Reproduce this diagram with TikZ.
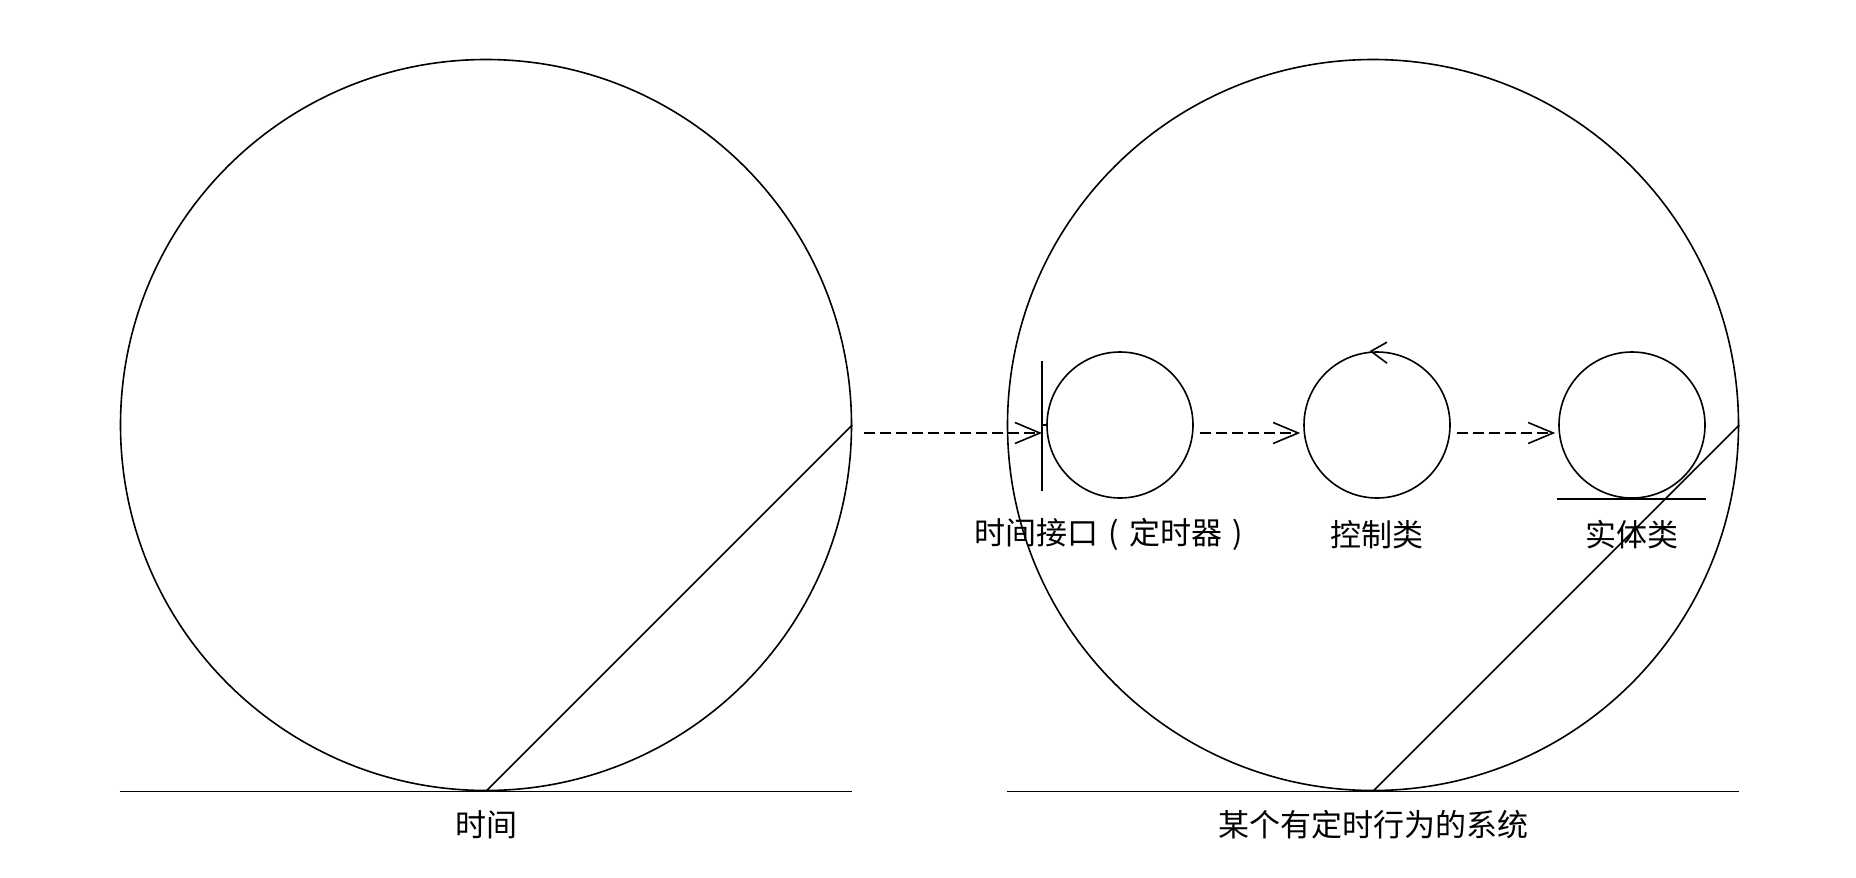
\documentclass[tikz,border=0pt]{standalone}
\usepackage{fontspec}
\setmainfont{Noto Sans CJK SC}
\usetikzlibrary{arrows.meta,calc}
\newcommand{\wparen}[1]{\makebox[1em][c]{#1}}
\begin{document}
\begin{tikzpicture}[x=1pt,y=-1pt,
  line width=1.6pt,
  big/.style={circle,draw,minimum size=731pt,inner sep=0pt},
  small/.style={circle,draw,minimum size=146pt,inner sep=0pt},
  lbl/.style={font=\fontsize{31}{36}\selectfont,inner sep=0pt},
  dep/.style={dash pattern=on 11pt off 5pt,-{Straight Barb[length=25pt,width=21pt,line width=1.6pt]}},
]
\useasboundingbox[fill=white] (0,0) rectangle (1856,878);
% left: time actor
\node[big] (L) at (486,425) {};
\draw (L.west|-L.south) -- (L.east|-L.south);
\draw (L.south) -- (L.east);
\node[lbl] (tl) at ($(L.south)+(0,33)$) {时间};
% right: system
\node[big] (R) at (1373,425) {};
\draw (R.west|-R.south) -- (R.east|-R.south);
\draw (R.south) -- (R.east);
\node[lbl] (tr) at ($(R.south)+(0,33)$) {某个有定时行为的系统};
% boundary (timer interface)
\node[small] (c1) at (1120,425) {};
\coordinate (bt) at (1042,361);
\coordinate (bb) at (1042,491);
\draw (bt) -- (bb);
\draw (bt|-c1) -- (c1.west);
\node[lbl] (l1) at ($(c1.south)+(-6,36)$) {时间接口\wparen{(}定时器\wparen{)}};
% control
\node[small] (c2) at (1377,425) {};
\draw ($(c2.north)+(10,-9)$) -- ($(c2.north)+(-6,0)$) -- ($(c2.north)+(10,12)$);
\node[lbl] (l2) at ($(c2.south)+(0,36)$) {控制类};
% entity
\node[small] (c3) at (1632,425) {};
\draw[line width=2pt] ($(c3.south)+(-75,0)$) -- ($(c3.south)+(74,0)$);
\node[lbl] (l3) at ($(c3.south)+(0,36)$) {实体类};
% dependencies
\coordinate (a1) at (864,433);
\draw[dep] (a1) -- (a1-|bt);
\draw[dep] ($(c1.east)+(6,8)$) -- ($(c2.west)+(-3,8)$);
\draw[dep] ($(c2.east)+(6,8)$) -- ($(c3.west)+(-3,8)$);
\end{tikzpicture}
\end{document}
